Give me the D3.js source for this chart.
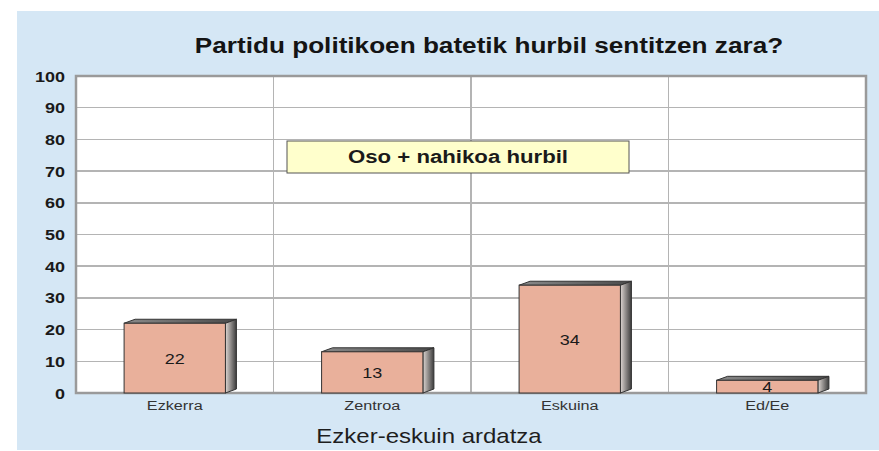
<!DOCTYPE html>
<html lang="en">
<head>
<meta charset="utf-8">
<title>Partidu politikoen batetik hurbil sentitzen zara?</title>
<style>
  body { margin: 0; background: #ffffff; }
  text { font-family: "Liberation Sans", Arial, sans-serif; }
  .grid line { stroke: #b4b4b4; stroke-width: 1.5; shape-rendering: crispEdges; }
  .frame { fill: none; stroke: #9a9a9a; stroke-width: 2.5; }
  .tick-label { font-size: 15px; font-weight: bold; fill: #1a1a1a; text-anchor: end; }
  .cat-label { font-size: 13.5px; fill: #333333; text-anchor: middle; }
  .value-label { font-size: 15px; fill: #1a1a1a; text-anchor: middle; }
  .title { font-size: 21.8px; font-weight: bold; fill: #141414; text-anchor: middle; }
  .axis-title { font-size: 20px; fill: #1e1e1e; text-anchor: middle; }
  .legend-text { font-size: 18.5px; font-weight: bold; fill: #1a1a1a; text-anchor: middle; }
</style>
</head>
<body>
<div id="chart"></div>
<script src="https://cdn.jsdelivr.net/npm/d3@7"></script>
<script>

var categories = ["Ezkerra", "Zentroa", "Eskuina", "Ed/Ee"];
var values = [22, 13, 34, 4];
var yTicks = [0, 10, 20, 30, 40, 50, 60, 70, 80, 90, 100];
var titleText = "Partidu politikoen batetik hurbil sentitzen zara?";
var xTitleText = "Ezker-eskuin ardatza";
var legendText = "Oso + nahikoa hurbil";

var width = 879, height = 451;
var plot = {left: 76, top: 76, right: 866, bottom: 393};
var stretch = 1.2;   // text in the source is a bit wide
var depthX = 11, depthY = 4;

var svg = d3.select("#chart").append("svg")
    .attr("width", width)
    .attr("height", height);

var defs = svg.append("defs");
var sideGrad = defs.append("linearGradient").attr("id", "sideGrad");
sideGrad.append("stop").attr("offset", "0%").attr("stop-color", "#ddd6d2");
sideGrad.append("stop").attr("offset", "100%").attr("stop-color", "#3c3c3c");
var topGrad = defs.append("linearGradient").attr("id", "topGrad");
topGrad.append("stop").attr("offset", "0%").attr("stop-color", "#8a8a8a");
topGrad.append("stop").attr("offset", "100%").attr("stop-color", "#4a4a4a");

// background panel
svg.append("rect")
   .attr("x", 17).attr("y", 11)
   .attr("width", width - 17).attr("height", 439)
   .style("fill", "#d5e7f5");

svg.append("rect")
   .attr("x", plot.left).attr("y", plot.top)
   .attr("width", plot.right - plot.left).attr("height", plot.bottom - plot.top)
   .style("fill", "#ffffff");

var xCat = d3.scaleBand()
             .domain(categories)
             .range([plot.left, plot.right])
             .padding(0);

var yScale = d3.scaleLinear()
               .domain([0, 100])
               .range([plot.bottom, plot.top]);

var barW = xCat.bandwidth() * 0.513;

function stretchedText(g, x, y, str, cls) {
    return g.append("text")
            .attr("transform", "translate(" + x + "," + y + ") scale(" + stretch + ",1)")
            .classed(cls, true)
            .text(str);
}

// gridlines
var grid = svg.append("g").attr("class", "grid");
grid.selectAll("line.h")
    .data(yTicks.filter(function(d){ return d > 0 && d < 100; }))
    .enter().append("line")
    .attr("class", "h")
    .attr("x1", plot.left).attr("x2", plot.right)
    .attr("y1", function(d){ return yScale(d); })
    .attr("y2", function(d){ return yScale(d); });

grid.selectAll("line.v")
    .data(categories.slice(1))
    .enter().append("line")
    .attr("class", "v")
    .attr("x1", function(d){ return xCat(d); })
    .attr("x2", function(d){ return xCat(d); })
    .attr("y1", plot.top).attr("y2", plot.bottom);

svg.append("rect")
   .attr("x", plot.left).attr("y", plot.top)
   .attr("width", plot.right - plot.left).attr("height", plot.bottom - plot.top)
   .classed("frame", true);

// y tick labels
yTicks.forEach(function(t){
    stretchedText(svg, 65, yScale(t) + 5.5, t, "tick-label");
});

// bars
var bars = svg.selectAll("g.bar")
    .data(categories)
    .enter().append("g")
    .attr("class", "bar");

bars.each(function(d, i){
    var g = d3.select(this);
    var x0 = xCat(d) + (xCat.bandwidth() - barW) / 2;
    var x1 = x0 + barW;
    var yt = yScale(values[i]);
    var yb = yScale(0);

    g.append("polygon")
     .attr("points", [[x0, yt], [x0 + depthX, yt - depthY], [x1 + depthX, yt - depthY], [x1, yt]].join(" "))
     .style("fill", "url(#topGrad)")
     .style("stroke", "#333")
     .style("stroke-width", 1);

    g.append("polygon")
     .attr("points", [[x1, yt], [x1 + depthX, yt - depthY], [x1 + depthX, yb - depthY], [x1, yb]].join(" "))
     .style("fill", "url(#sideGrad)")
     .style("stroke", "#333")
     .style("stroke-width", 1);

    g.append("rect")
     .attr("x", x0).attr("y", yt)
     .attr("width", barW).attr("height", yb - yt)
     .style("fill", "#e9b09b")
     .style("stroke", "#333")
     .style("stroke-width", 1);

    stretchedText(g, (x0 + x1) / 2, (yt + yb) / 2 + 5.5, values[i], "value-label");
    stretchedText(svg, xCat(d) + xCat.bandwidth() / 2, 410, d, "cat-label");
});

// titles
stretchedText(svg, 489, 53, titleText, "title");
stretchedText(svg, 429, 443, xTitleText, "axis-title");

// legend box
svg.append("rect")
   .attr("x", 287).attr("y", 141)
   .attr("width", 342).attr("height", 32)
   .style("fill", "#ffffcc")
   .style("stroke", "#555")
   .style("stroke-width", 1);
stretchedText(svg, 458, 163, legendText, "legend-text");

</script>
</body>
</html>
